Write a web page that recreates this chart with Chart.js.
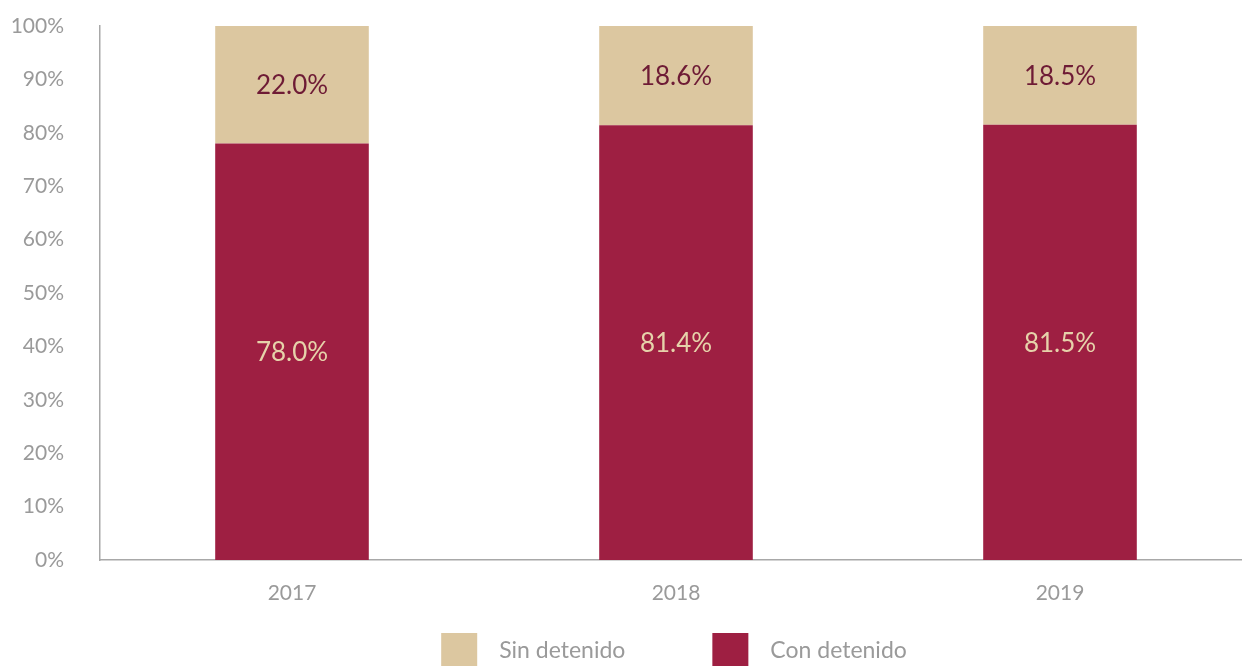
<!DOCTYPE html>
<html>
<head>
<meta charset="utf-8">
<script src="https://cdn.jsdelivr.net/npm/chart.js@4.4.0/dist/chart.umd.min.js"></script>
<style>
  html, body { margin: 0; padding: 0; background: #fff; }
  #wrap { width: 1242px; height: 666px; overflow: hidden; position: relative; }
</style>
</head>
<body>
<div id="wrap">
  <canvas id="stackChart" width="1252" height="680"></canvas>
</div>
<script>
// datos
var years = ["2017", "2018", "2019"];
var conDetenido = [78.0, 81.4, 81.5];
var sinDetenido = [22.0, 18.6, 18.5];
var yTicks = [0, 10, 20, 30, 40, 50, 60, 70, 80, 90, 100];

var MAROON = "#9e1f42";
var TAN = "#dcc7a0";
var GREY = "#9a9a9a";
var FONT = "Lato";

// etiquetas de valor dentro de cada barra
var valueLabels = {
    id: "valueLabels",
    afterDatasetsDraw: function (chart) {
        var ctx = chart.ctx;
        ctx.save();
        ctx.font = "26px " + FONT;
        ctx.textAlign = "center";
        ctx.textBaseline = "middle";
        chart.data.datasets.forEach(function (ds, i) {
            var meta = chart.getDatasetMeta(i);
            meta.data.forEach(function (bar, j) {
                ctx.fillStyle = ds.labelColor;
                ctx.fillText(ds.data[j].toFixed(1) + "%", bar.x, (bar.y + bar.base) / 2 + 1);
            });
        });
        ctx.restore();
    }
};

// leyenda abajo, con el orden de la imagen (Sin primero)
var bottomLegend = {
    id: "bottomLegend",
    afterDraw: function (chart) {
        var ctx = chart.ctx;
        var box = 36, gapText = 22, gapItem = 87, top = 633;
        var items = chart.data.datasets.slice().reverse();
        ctx.save();
        ctx.font = "23px " + FONT;
        var total = 0;
        items.forEach(function (ds, i) {
            total += box + gapText + ctx.measureText(ds.label).width;
            if (i > 0) total += gapItem;
        });
        var x = (chart.chartArea.left + chart.chartArea.right) / 2 - total / 2 - 2;
        ctx.textBaseline = "middle";
        ctx.textAlign = "left";
        items.forEach(function (ds) {
            ctx.fillStyle = ds.backgroundColor;
            ctx.fillRect(x, top, box, box);
            ctx.fillStyle = GREY;
            ctx.fillText(ds.label, x + box + gapText, top + box / 2);
            x += box + gapText + ctx.measureText(ds.label).width + gapItem;
        });
        ctx.restore();
    }
};

var ctx = document.getElementById("stackChart").getContext("2d");

new Chart(ctx, {
    type: "bar",
    data: {
        labels: years,
        datasets: [{
            label: "Con detenido",
            data: conDetenido,
            backgroundColor: MAROON,
            labelColor: "#e6d2aa",
            borderWidth: 0
        }, {
            label: "Sin detenido",
            data: sinDetenido,
            backgroundColor: TAN,
            labelColor: "#6e1b35",
            borderWidth: 0
        }]
    },
    options: {
        responsive: false,
        animation: false,
        layout: { padding: { top: 26, left: 0, right: 0, bottom: 0 } },
        datasets: { bar: { categoryPercentage: 1.0, barPercentage: 0.4 } },
        plugins: {
            legend: { display: false },
            tooltip: { enabled: false }
        },
        scales: {
            x: {
                stacked: true,
                grid: { display: false },
                border: { display: true, color: "#a8a8a8", width: 1.5 },
                ticks: { color: GREY, padding: 13, font: { family: FONT, size: 21 } },
                afterFit: function (scale) { scale.height = 120; }
            },
            y: {
                stacked: true,
                min: 0,
                max: 100,
                grid: { display: false },
                border: { display: true, color: "#a8a8a8", width: 1.5 },
                afterBuildTicks: function (scale) {
                    scale.ticks = yTicks.map(function (v) { return { value: v }; });
                },
                ticks: {
                    color: GREY,
                    padding: 28,
                    font: { family: FONT, size: 21 },
                    callback: function (v) { return v + "%"; }
                },
                afterFit: function (scale) {
                    scale.width = 100;
                    scale.paddingTop = 0;
                    scale.paddingBottom = 0;
                }
            }
        }
    },
    plugins: [valueLabels, bottomLegend]
});
</script>
</body>
</html>
